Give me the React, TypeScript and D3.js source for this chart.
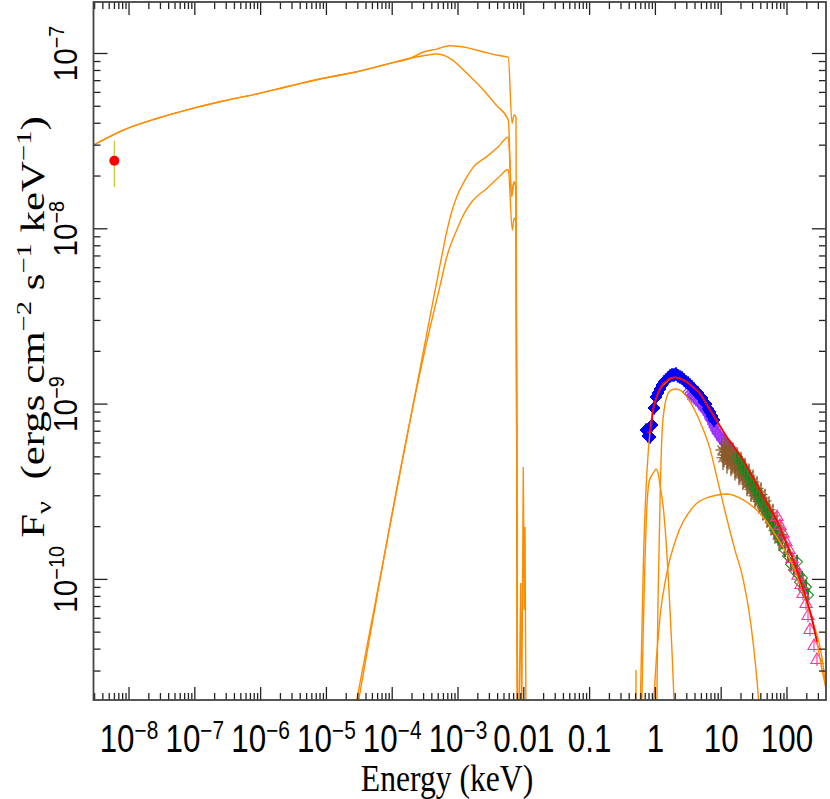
import React from "react";
import * as d3 from "d3";

type P = [number, number];

// ---------- axis ticks ----------
const xMajor = [1e-8, 1e-7, 1e-6, 1e-5, 1e-4, 1e-3, 1e-2, 1e-1, 1, 10, 100];
const xLabelBase = ["10", "10", "10", "10", "10", "10", "0.01", "0.1", "1", "10", "100"];
const xLabelExp = ["−8", "−7", "−6", "−5", "−4", "−3", "", "", "", "", ""];
const yMajor = [1e-10, 1e-9, 1e-8, 1e-7];
const yLabelBase = ["10", "10", "10", "10"];
const yLabelExp = ["−10", "−9", "−8", "−7"];

// ---------- optical point ----------
const uvotPoint: P = [5.98e-9, 2.446e-8];
const uvotErr: P = [1.73e-8, 3.18e-8];

// ---------- low energy model curves ----------
const lowShared: P[] = [
  [2.884e-9, 3.006e-8], [8.18e-9, 3.66e-8], [2.64e-8, 4.26e-8], [8.45e-8, 4.82e-8],
  [2.71e-7, 5.36e-8], [8.73e-7, 5.88e-8], [2.8e-6, 6.53e-8], [8.97e-6, 7.23e-8],
  [2.89e-5, 7.87e-8], [9.27e-5, 8.79e-8], [1.87e-4, 9.39e-8],
];
const modelATail: P[] = [
  [2.97e-4, 1.02e-7], [4.74e-4, 1.06e-7], [7.55e-4, 1.107e-7], [1.36e-3, 1.08e-7],
  [2.43e-3, 1.02e-7], [3.79e-3, 9.8e-8], [5.81e-3, 9.51e-8], [6.62e-3, 4.0e-8],
  [7.1e-3, 4.46e-8], [7.61e-3, 4.35e-8], [8.02e-3, 1.5e-11],
];
const modelBTail: P[] = [
  [2.97e-4, 9.71e-8], [4.74e-4, 9.93e-8], [7.55e-4, 9.39e-8], [1.36e-3, 7.71e-8],
  [2.43e-3, 6.19e-8], [3.79e-3, 5.08e-8], [5.81e-3, 4.18e-8], [6.5e-3, 1.56e-8],
  [7.1e-3, 1.85e-8], [7.61e-3, 1.71e-8], [8.02e-3, 1.5e-11],
];
const modelC: P[] = [
  [2.53e-5, 1.58e-11], [1.316e-4, 4.05e-10], [3.75e-4, 3.14e-9], [5.33e-4, 6.22e-9],
  [6.73e-4, 9.59e-9], [8.02e-4, 1.25e-8], [9.55e-4, 1.52e-8], [1.28e-3, 1.9e-8],
  [1.71e-3, 2.25e-8], [2.73e-3, 2.58e-8], [4.06e-3, 2.93e-8], [5.81e-3, 3.33e-8],
  [6.55e-3, 1.52e-8], [7.1e-3, 1.85e-8], [7.61e-3, 1.71e-8], [8.02e-3, 1.5e-11],
];
const modelD: P[] = [
  [2.74e-5, 1.58e-11], [3.75e-4, 2.72e-9], [5.33e-4, 4.72e-9], [6.81e-4, 7.0e-9],
  [9.55e-4, 9.84e-9], [1.28e-3, 1.25e-8], [1.71e-3, 1.46e-8], [2.73e-3, 1.7e-8],
  [4.06e-3, 1.95e-8], [5.81e-3, 2.18e-8], [6.68e-3, 9.84e-9], [7.1e-3, 1.15e-8],
  [7.61e-3, 1.09e-8], [8.02e-3, 1.5e-11],
];
const edgeSpikes: P[] = [
  [8.45e-3, 1.5e-11], [8.97e-3, 9.53e-11], [9.29e-3, 1.5e-11], [9.82e-3, 4.37e-10],
  [1.017e-2, 6.68e-11], [1.043e-2, 1.99e-10], [1.08e-2, 1.5e-11],
];

// ---------- X-ray model curves ----------
const modelTotal: P[] = [
  [0.583, 1.58e-11], [0.615, 3.95e-11], [0.659, 1.29e-10], [0.719, 3.23e-10],
  [0.773, 5.13e-10], [0.828, 6.93e-10], [0.92, 9.25e-10], [1.047, 1.1e-9],
  [1.217, 1.24e-9], [1.486, 1.34e-9], [1.727, 1.4e-9], [1.986, 1.42e-9],
  [2.365, 1.4e-9], [2.99, 1.34e-9], [3.73, 1.25e-9], [4.76, 1.15e-9],
  [5.88, 1.01e-9], [7.59, 8.66e-10], [9.59, 7.5e-10], [12.1, 6.52e-10],
  [16.2, 5.62e-10], [21.7, 4.8e-10], [28.4, 3.99e-10], [38.9, 3.23e-10],
  [51.4, 2.66e-10], [69.8, 2.18e-10], [93.3, 1.68e-10], [124.8, 1.29e-10],
  [157.8, 9.91e-11], [199, 7.62e-11], [231.7, 6.26e-11], [282.8, 4.51e-11],
  [336.7, 3.12e-11], [391.7, 2.4e-11],
];
const modelHard: P[] = [
  [0.885, 1.21e-11], [0.944, 2.05e-11], [1.175, 6.12e-11], [1.486, 1.08e-10],
  [2.11, 1.75e-10], [3.77, 2.6e-10], [6.76, 2.96e-10], [12.1, 3.07e-10],
  [21.7, 2.84e-10], [38.9, 2.38e-10], [69.8, 1.75e-10], [124.8, 1.18e-10],
  [223, 6.41e-11], [356, 3.18e-11], [391.7, 2.34e-11],
];
const modelSoft: P[] = [
  [1.05, 1.58e-11], [1.076, 4.51e-11], [1.127, 1.29e-10], [1.196, 3.69e-10],
  [1.283, 7.6e-10], [1.486, 1.1e-9], [1.67, 1.19e-9], [1.99, 1.22e-9],
  [2.37, 1.2e-9], [3.36, 1.03e-9], [4.76, 7.94e-10], [6.76, 5.55e-10],
  [8.93, 3.6e-10], [11.8, 2.33e-10], [16.2, 1.47e-10], [21.7, 9.91e-11],
  [28.4, 5.49e-11], [35.0, 2.67e-11], [40.3, 1.38e-11],
];
const modelNarrow: P[] = [
  [0.615, 1.58e-11], [0.649, 4.51e-11], [0.695, 1.29e-10], [0.745, 2.66e-10],
  [0.813, 3.69e-10], [0.887, 3.94e-10], [0.953, 4.1e-10], [1.02, 4.27e-10],
  [1.096, 4.05e-10], [1.175, 3.46e-10], [1.305, 2.66e-10], [1.449, 1.68e-10],
  [1.637, 7.62e-11], [1.786, 3.95e-11], [1.918, 2.05e-11], [2.02, 1.21e-11],
];
const modelLine: P[] = [[0.505, 1.2e-11], [0.507, 3.04e-11], [0.509, 1.2e-11]];

// folded model (red)
const foldedModel: P[] = [
  [0.75, 6.9e-10], [0.828, 6.93e-10], [0.92, 9.25e-10], [1.047, 1.1e-9],
  [1.217, 1.26e-9], [1.486, 1.36e-9], [1.727, 1.41e-9], [1.986, 1.42e-9],
  [2.365, 1.4e-9], [2.99, 1.34e-9], [3.73, 1.25e-9], [4.76, 1.15e-9],
  [5.88, 1.01e-9], [7.59, 8.66e-10], [9.59, 7.5e-10], [12.1, 6.52e-10],
  [16.2, 5.62e-10], [21.7, 4.8e-10], [28.4, 3.99e-10], [38.9, 3.23e-10],
  [51.4, 2.66e-10], [69.8, 2.18e-10], [93.3, 1.68e-10], [124.8, 1.29e-10],
  [157.8, 9.91e-11], [199, 7.62e-11], [231.7, 6.26e-11], [285, 4.4e-11],
];

// ---------- X-ray data ----------
const xrtWT: P[] = [
  [0.72, 7.11e-10], [0.772, 6.58e-10], [0.828, 6.49e-10], [0.888, 7.6e-10],
  [0.952, 9.5e-10], [1.021, 1.098e-9], [1.095, 1.157e-9], [1.175, 1.219e-9],
  [1.26, 1.285e-9], [1.351, 1.337e-9], [1.449, 1.373e-9], [1.554, 1.409e-9],
  [1.667, 1.447e-9], [1.788, 1.466e-9], [1.918, 1.466e-9], [2.057, 1.485e-9],
  [2.206, 1.447e-9], [2.366, 1.428e-9], [2.537, 1.409e-9], [2.721, 1.373e-9],
  [2.917, 1.337e-9], [3.129, 1.319e-9], [3.356, 1.285e-9], [3.599, 1.252e-9],
  [3.86, 1.219e-9], [4.14, 1.172e-9], [4.44, 1.157e-9], [4.762, 1.112e-9],
  [5.107, 1.083e-9], [5.477, 1.028e-9], [5.875, 1.001e-9], [6.3, 9.38e-10],
  [6.757, 9.02e-10], [7.247, 8.55e-10], [7.772, 8.11e-10],
];
const xrtWTErr = 0.038;
const xrtPC: P[] = [
  [3.129, 1.17e-9], [3.35, 1.15e-9], [3.599, 1.12e-9], [3.86, 1.1e-9], [4.14, 1.075e-9],
  [4.44, 1.05e-9], [4.598, 1.02e-9], [4.85, 1.0e-9], [5.107, 9.8e-10], [5.4, 9.5e-10],
  [5.673, 9.3e-10], [6.0, 9.0e-10], [6.3, 8.7e-10], [6.65, 8.3e-10], [6.998, 8.05e-10],
  [7.4, 7.7e-10], [7.772, 7.4e-10], [8.2, 7.1e-10], [8.635, 6.85e-10], [9.1, 6.7e-10],
  [9.59, 6.5e-10], [10.1, 6.3e-10], [10.65, 6.17e-10], [11.2, 6.0e-10], [11.83, 5.85e-10],
  [12.5, 5.7e-10], [13.14, 5.62e-10], [13.85, 5.45e-10], [14.59, 5.34e-10], [15.4, 5.2e-10],
  [16.21, 5.06e-10],
];
const xrtPCErr = 0.045;
const batData: P[] = [
  [10.28, 5.47e-10], [11.03, 5.12e-10], [11.83, 5.33e-10], [12.69, 4.93e-10],
  [13.61, 5.06e-10], [14.59, 4.67e-10], [15.65, 4.8e-10], [16.79, 4.43e-10],
  [18.0, 4.49e-10], [19.31, 4.15e-10], [20.71, 4.21e-10], [22.21, 3.89e-10],
  [23.82, 3.89e-10], [25.54, 3.59e-10], [27.4, 3.59e-10], [29.38, 3.32e-10],
  [31.51, 3.28e-10], [33.8, 3.07e-10], [36.25, 3.03e-10], [38.88, 2.84e-10],
  [41.7, 2.76e-10], [44.72, 2.59e-10], [47.96, 2.52e-10], [51.43, 2.36e-10],
  [55.16, 2.27e-10], [59.16, 2.13e-10], [63.45, 2.04e-10], [68.05, 1.91e-10],
  [72.98, 1.82e-10], [78.27, 1.72e-10],
  [10.65, 4.95e-10], [11.4, 5.6e-10], [12.25, 4.7e-10], [13.1, 5.4e-10], [14.1, 4.55e-10],
  [15.1, 5.15e-10], [16.2, 4.3e-10], [17.4, 4.85e-10], [18.65, 4.05e-10], [20.0, 4.55e-10],
  [21.45, 3.8e-10], [23.0, 4.2e-10], [24.7, 3.5e-10], [26.45, 3.9e-10], [28.4, 3.25e-10],
  [30.4, 3.6e-10], [32.6, 3.0e-10], [35.0, 3.3e-10], [37.5, 2.78e-10], [40.3, 3.05e-10],
  [43.2, 2.55e-10], [46.3, 2.8e-10], [49.7, 2.32e-10], [53.3, 2.5e-10], [57.1, 2.1e-10],
  [61.3, 2.3e-10], [65.7, 1.9e-10], [70.5, 2.02e-10], [75.6, 1.7e-10], [81.0, 1.8e-10],
];
const batErr = 0.07;
const gbmData: P[] = [
  [17.39, 4.99e-10], [19.31, 4.67e-10], [21.45, 4.32e-10], [23.82, 4.05e-10],
  [26.45, 3.79e-10], [29.38, 3.5e-10], [32.63, 3.28e-10], [36.25, 3.03e-10],
  [40.26, 2.84e-10], [44.72, 2.66e-10], [49.67, 2.42e-10], [55.16, 2.27e-10],
  [61.27, 2.07e-10], [68.05, 1.91e-10], [75.59, 1.77e-10], [83.95, 1.63e-10],
  [93.24, 1.47e-10], [103.6, 1.36e-10], [115.0, 1.22e-10], [127.8, 1.13e-10],
  [141.9, 1.26e-10], [152.2, 1.06e-10], [157.6, 9.66e-11], [169.0, 1.02e-10],
  [181.3, 8.7e-11], [194.5, 9.05e-11], [208.6, 8.14e-11],
];
const gbmErr = 0.04;
const hardData: P[] = [
  [70.47, 2.27e-10], [78.27, 2.02e-10], [86.96, 1.82e-10], [96.56, 1.63e-10],
  [107.3, 1.47e-10], [119.1, 1.31e-10], [132.3, 1.18e-10], [147.0, 1.05e-10],
  [163.2, 9.29e-11], [175.1, 8.25e-11], [194.5, 7.24e-11], [208.6, 6.18e-11],
  [223.6, 5.14e-11], [257.2, 4.17e-11], [285.6, 3.47e-11],
];
const hardErr = 0.035;

// ---------- layout ----------
const X0 = 93.5, X1 = 826, Y0 = 2, Y1 = 700;
const ORANGE = "#FF8C00";

export default function App() {
  const x = d3.scaleLog().domain([2.884e-9, 391.7]).range([X0, X1]);
  const y = d3.scaleLog().domain([2.051e-11, 1.967e-7]).range([Y1, Y0]);
  const line = d3.line<P>().x((d) => x(d[0])).y((d) => y(d[1])).curve(d3.curveMonotoneX);
  const rawLine = d3.line<P>().x((d) => x(d[0])).y((d) => y(d[1]));

  const xMinor: number[] = [];
  for (let p = -9; p <= 2; p++)
    for (let k = 2; k <= 9; k++) {
      const v = k * Math.pow(10, p);
      if (v > 2.884e-9 && v < 391.7) xMinor.push(v);
    }
  const yMinor: number[] = [];
  for (let p = -11; p <= -7; p++)
    for (let k = 2; k <= 9; k++) {
      const v = k * Math.pow(10, p);
      if (v > 2.051e-11 && v < 1.967e-7) yMinor.push(v);
    }

  const smoothCurves: P[][] = [
    lowShared.concat(modelATail), lowShared.concat(modelBTail), modelC, modelD,
    modelNarrow, modelSoft, modelHard, modelTotal,
  ];
  const sharpCurves: P[][] = [edgeSpikes, modelLine];

  const errBar = (d: P, e: number, color: string, key: string, w = 1) => (
    <line key={key} x1={x(d[0])} x2={x(d[0])} y1={y(d[1] * Math.pow(10, -e))} y2={y(d[1] * Math.pow(10, e))}
      stroke={color} strokeWidth={w} />
  );
  const diamond = (cx: number, cy: number, r: number) =>
    `M${cx},${cy - r}L${cx + r},${cy}L${cx},${cy + r}L${cx - r},${cy}Z`;

  const tickStroke = "#222";
  const sans = "'Liberation Sans', Arial, Helvetica, sans-serif";
  const serif = "'Liberation Serif', 'Times New Roman', serif";

  return (
    <svg width={830} height={799} style={{ display: "block", position: "absolute", left: 0, top: 0 }}>
      <rect x={0} y={0} width={830} height={799} fill="#fff" />
      <defs>
        <clipPath id="plotClip">
          <rect x={X0} y={Y0} width={X1 - X0} height={Y1 - Y0} />
        </clipPath>
      </defs>

      <g clipPath="url(#plotClip)">
        {/* purple XRT PC */}
        {xrtPC.map((d, i) => errBar(d, xrtPCErr, "#9B30FF", "pe" + i, 1.4))}
        {xrtPC.map((d, i) => (
          <path key={"pp" + i} d={diamond(x(d[0]), y(d[1]), 5)} fill="none" stroke="#9B30FF" strokeWidth={1.2} />
        ))}
        {/* blue XRT WT */}
        {xrtWT.map((d, i) => errBar(d, xrtWTErr, "#0000FF", "be" + i, 2.2))}
        {xrtWT.map((d, i) => (
          <path key={"bp" + i} d={diamond(x(d[0]), y(d[1]), 6)} fill="#0000FF" stroke="#0000FF" strokeWidth={1} />
        ))}
        {/* brown BAT */}
        {batData.map((d, i) => errBar(d, batErr, "#8B5A2B", "te" + i, 1.3))}
        {batData.map((d, i) => {
          const cx = x(d[0]), cy = y(d[1]), r = 6.5;
          const q = r * 0.707;
          return <path key={"tp" + i}
            d={`M${cx - r},${cy}L${cx + r},${cy}M${cx},${cy - r}L${cx},${cy + r}M${cx - q},${cy - q}L${cx + q},${cy + q}M${cx - q},${cy + q}L${cx + q},${cy - q}`}
            stroke="#8B5A2B" strokeWidth={1.3} fill="none" opacity={0.85} />;
        })}
        {/* green GBM */}
        {gbmData.map((d, i) => errBar(d, gbmErr, "#1E7B1E", "ge" + i, 2.2))}
        {gbmData.map((d, i) => (
          <path key={"gp" + i} d={diamond(x(d[0]), y(d[1]), 5.5)} fill="none" stroke="#228B22" strokeWidth={1.1} />
        ))}
        {/* pink triangles */}
        {hardData.map((d, i) => errBar(d, hardErr, "#FF3399", "he" + i, 1.1))}
        {hardData.map((d, i) => {
          const cx = x(d[0]), cy = y(d[1]), r = 7;
          return <path key={"hp" + i}
            d={`M${cx},${cy - r}L${cx + r * 0.87},${cy + r * 0.5}L${cx - r * 0.87},${cy + r * 0.5}Z`}
            fill="none" stroke="#FF3399" strokeWidth={1.1} />;
        })}

        {/* model curves */}
        {smoothCurves.map((c, i) => (
          <path key={"m" + i} d={line(c) || ""} fill="none" stroke={ORANGE} strokeWidth={1.4} />
        ))}
        {sharpCurves.map((c, i) => (
          <path key={"s" + i} d={rawLine(c) || ""} fill="none" stroke={ORANGE} strokeWidth={1.4} />
        ))}
        <path d={line(foldedModel) || ""} fill="none" stroke="#FF0000" strokeWidth={1.8} />

        {/* optical point */}
        <line x1={x(uvotPoint[0])} x2={x(uvotPoint[0])} y1={y(uvotErr[0])} y2={y(uvotErr[1])}
          stroke="#CDCD3A" strokeWidth={1.3} />
        <circle cx={x(uvotPoint[0])} cy={y(uvotPoint[1])} r={5} fill="#FF0000" />
      </g>

      {/* ticks */}
      <g stroke={tickStroke} strokeWidth={1.3}>
        {xMajor.map((v, i) => (
          <g key={"xt" + i}>
            <line x1={x(v)} x2={x(v)} y1={Y1} y2={Y1 - 13} />
            <line x1={x(v)} x2={x(v)} y1={Y0} y2={Y0 + 13} />
          </g>
        ))}
        {xMinor.map((v, i) => (
          <g key={"xm" + i}>
            <line x1={x(v)} x2={x(v)} y1={Y1} y2={Y1 - 7} />
            <line x1={x(v)} x2={x(v)} y1={Y0} y2={Y0 + 7} />
          </g>
        ))}
        {yMajor.map((v, i) => (
          <g key={"yt" + i}>
            <line x1={X0} x2={X0 + 14} y1={y(v)} y2={y(v)} />
            <line x1={X1} x2={X1 - 14} y1={y(v)} y2={y(v)} />
          </g>
        ))}
        {yMinor.map((v, i) => (
          <g key={"ym" + i}>
            <line x1={X0} x2={X0 + 7} y1={y(v)} y2={y(v)} />
            <line x1={X1} x2={X1 - 7} y1={y(v)} y2={y(v)} />
          </g>
        ))}
      </g>

      <rect x={X0} y={Y0} width={X1 - X0} height={Y1 - Y0} fill="none" stroke="#444" strokeWidth={1.8} />

      {/* x tick labels */}
      {xMajor.map((v, i) => (
        <text key={"xl" + i} transform={`translate(${x(v)},752) scale(0.95,1.15)`} textAnchor="middle"
          fontFamily={sans} fontSize={33} fill="#000">
          {xLabelBase[i]}
          {xLabelExp[i] ? <tspan dy={-11} fontSize={22}>{xLabelExp[i]}</tspan> : null}
        </text>
      ))}

      {/* y tick labels */}
      {yMajor.map((v, i) => (
        <text key={"yl" + i} transform={`translate(77,${y(v)}) rotate(-90) scale(0.9,1)`} textAnchor="middle"
          fontFamily={sans} fontSize={33} fill="#000">
          {yLabelBase[i]}
          <tspan dy={-13} fontSize={22}>{yLabelExp[i]}</tspan>
        </text>
      ))}

      {/* axis titles */}
      <text transform="translate(447,791) scale(1.02,1.2)" textAnchor="middle" fontFamily={serif} fontSize={31}
        fill="#000">Energy (keV)</text>
      <text transform="translate(44,327) rotate(-90) scale(1.3,1)" textAnchor="middle" fontFamily={serif} fontSize={33}
        fill="#000" style={{ whiteSpace: "pre" }}>
        F<tspan dy={7} fontSize={22}>ν</tspan>
        <tspan dy={-7}>{"  (ergs cm"}</tspan>
        <tspan dy={-13} fontSize={22}>−2</tspan>
        <tspan dy={13}>{" s"}</tspan>
        <tspan dy={-13} fontSize={22}>−1</tspan>
        <tspan dy={13}>{" keV"}</tspan>
        <tspan dy={-13} fontSize={22}>−1</tspan>
        <tspan dy={13}>{")"}</tspan>
      </text>
    </svg>
  );
}
